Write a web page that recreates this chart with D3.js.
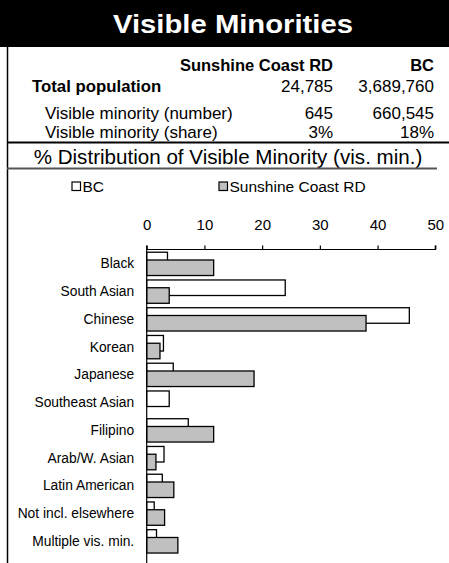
<!DOCTYPE html>
<html>
<head>
<meta charset="utf-8">
<script src="https://cdn.jsdelivr.net/npm/d3@7"></script>
<style>
  html, body { margin: 0; padding: 0; background: #fff; }
  svg { display: block; font-family: "Liberation Sans", Arial, sans-serif; }
</style>
</head>
<body>
<svg id="chart" width="449" height="563"></svg>
<script>
// data
const title = "Visible Minorities";
const subTitle = "% Distribution of Visible Minority (vis. min.)";
const columnHeads = ["Sunshine Coast RD", "BC"];
const rowLabels = ["Total population", "Visible minority (number)", "Visible minority (share)"];
const scrdFigures = ["24,785", "645", "3%"];
const bcFigures = ["3,689,760", "660,545", "18%"];

const categories = ["Black", "South Asian", "Chinese", "Korean", "Japanese", "Southeast Asian",
  "Filipino", "Arab/W. Asian", "Latin American", "Not incl. elsewhere", "Multiple vis. min."];
const bcValues   = [3.6, 24.0, 45.5, 2.9, 4.6, 3.9, 7.2, 3.0, 2.7, 1.3, 1.7];
const scrdValues = [11.6, 3.9, 38.0, 2.3, 18.6, 0, 11.6, 1.6, 4.7, 3.1, 5.4];
const xTicks = [0, 10, 20, 30, 40, 50];
const seriesNames = ["BC", "Sunshine Coast RD"];
const seriesFills = ["#ffffff", "#c0c0c0"];

let svg = d3.select("#chart");

/////////////////
// HEADER
svg.append("rect")
    .attr("x", 0).attr("y", 0)
    .attr("width", 449).attr("height", 47)
    .style("fill", "black");

svg.append("text")
    .attr("x", 233).attr("y", 33)
    .attr("text-anchor", "middle")
    .attr("textLength", 240)
    .attr("lengthAdjust", "spacingAndGlyphs")
    .style("font-size", "25px")
    .style("font-weight", "bold")
    .style("fill", "white")
    .text(title);

// left border
svg.append("line")
    .attr("x1", 7.5).attr("y1", 47)
    .attr("x2", 7.5).attr("y2", 563)
    .style("stroke", "black")
    .style("stroke-width", 1.5);

// table
svg.append("text")
    .attr("x", 333).attr("y", 70.5)
    .attr("text-anchor", "end")
    .style("font-size", "16.5px").style("font-weight", "bold")
    .text(columnHeads[0]);
svg.append("text")
    .attr("x", 434).attr("y", 70.5)
    .attr("text-anchor", "end")
    .style("font-size", "16.5px").style("font-weight", "bold")
    .text(columnHeads[1]);

const rowY = [91.5, 118.5, 137.5];
rowLabels.forEach((lab, i) => {
    svg.append("text")
        .attr("x", i == 0 ? 32 : 45)
        .attr("y", rowY[i])
        .style("font-size", i == 0 ? "16.8px" : "17px")
        .style("font-weight", i == 0 ? "bold" : "normal")
        .text(lab);
    svg.append("text")
        .attr("x", 333).attr("y", rowY[i])
        .attr("text-anchor", "end")
        .style("font-size", "17px")
        .text(scrdFigures[i]);
    svg.append("text")
        .attr("x", 434).attr("y", rowY[i])
        .attr("text-anchor", "end")
        .style("font-size", "17px")
        .text(bcFigures[i]);
});

svg.append("line")
    .attr("x1", 7).attr("y1", 142.5)
    .attr("x2", 449).attr("y2", 142.5)
    .style("stroke", "black")
    .style("stroke-width", 2);

svg.append("text")
    .attr("x", 228).attr("y", 164)
    .attr("text-anchor", "middle")
    .style("font-size", "20.6px")
    .text(subTitle);

svg.append("line")
    .attr("x1", 7).attr("y1", 168.5)
    .attr("x2", 437).attr("y2", 168.5)
    .style("stroke", "#555")
    .style("stroke-width", 2);

/////////////////
// LEGEND
const legendX = [72, 219];
seriesNames.forEach((name, i) => {
    svg.append("rect")
        .attr("x", legendX[i]).attr("y", 182)
        .attr("width", 8.5).attr("height", 8.5)
        .style("fill", seriesFills[i])
        .style("stroke", "black")
        .style("stroke-width", 1.2);
    svg.append("text")
        .attr("x", legendX[i] + 10.5).attr("y", 191.5)
        .style("font-size", "15.5px")
        .text(name);
});

/////////////////
// BAR CHART
let xScale = d3.scaleLinear()
    .domain([0, 50])
    .range([146.7, 435.3]);

let yScale = d3.scaleBand()
    .domain(categories)
    .range([250, 250 + 27.75 * categories.length]);

const band = yScale.bandwidth();
const barH = band * 0.56;
const barPad = (band - 1.5 * barH) / 2;

// x axis on top
let xAxisG = svg.append("g")
    .attr("class", "x-axis")
    .attr("transform", "translate(0, 249.5)")
    .call(d3.axisTop(xScale)
        .tickValues(xTicks)
        .tickSize(4)
        .tickPadding(16)
        .tickFormat(d3.format("d")));
xAxisG.select(".domain")
    .attr("d", `M${xScale.range()[0]},-4V0H${xScale.range()[1]}V-4`)
    .style("stroke", "black").style("stroke-width", 1.2);
xAxisG.selectAll(".tick line").style("stroke", "black").style("stroke-width", 1.2);
xAxisG.selectAll(".tick text")
    .style("font-size", "15px")
    .style("font-family", "'Liberation Sans', Arial, sans-serif")
    .style("fill", "black");

// BC bars (behind)
svg.append("g")
    .selectAll("rect")
    .data(categories)
    .join("rect")
    .filter((d, i) => bcValues[i] > 0)
    .attr("x", xScale(0))
    .attr("y", d => yScale(d) + barPad)
    .attr("width", d => xScale(bcValues[categories.indexOf(d)]) - xScale(0))
    .attr("height", barH)
    .style("fill", seriesFills[0])
    .style("stroke", "black")
    .style("stroke-width", 1.3);

// Sunshine Coast RD bars
svg.append("g")
    .selectAll("rect")
    .data(categories)
    .join("rect")
    .filter((d, i) => scrdValues[i] > 0)
    .attr("x", xScale(0))
    .attr("y", d => yScale(d) + barPad + barH / 2)
    .attr("width", d => xScale(scrdValues[categories.indexOf(d)]) - xScale(0))
    .attr("height", barH)
    .style("fill", seriesFills[1])
    .style("stroke", "black")
    .style("stroke-width", 1.3);

// y axis
let yAxisG = svg.append("g")
    .attr("class", "y-axis")
    .attr("transform", `translate(${xScale(0)}, 0)`)
    .call(d3.axisLeft(yScale).tickSize(0).tickPadding(12.5));
yAxisG.select(".domain")
    .attr("d", "M0,249.5V563")
    .style("stroke", "black").style("stroke-width", 1.2);
yAxisG.selectAll(".tick text")
    .style("font-size", "13.8px")
    .style("font-family", "'Liberation Sans', Arial, sans-serif")
    .style("fill", "black");
</script>
</body>
</html>
